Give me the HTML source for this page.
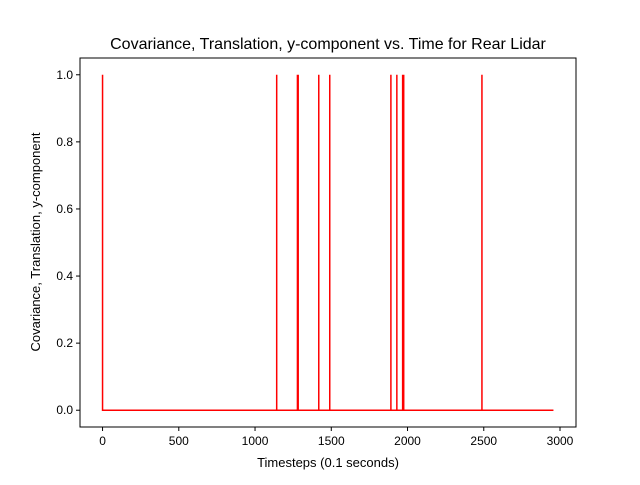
<!DOCTYPE html>
<html><head><meta charset="utf-8"><style>
body{margin:0;background:#fff;}
svg{font-family:"Liberation Sans","DejaVu Sans",sans-serif;}
</style></head><body>
<svg id="chart" width="640" height="480" viewBox="0 0 640 480">
<rect width="640" height="480" fill="#fff"/>
<text x="328" y="49" text-anchor="middle" font-size="16">Covariance, Translation, y-component vs. Time for Rear Lidar</text>
<g id="plot"></g>
<rect x="80" y="58" width="496" height="369" fill="none" stroke="#000" stroke-width="1"/>
<text x="328" y="467" text-anchor="middle" font-size="13">Timesteps (0.1 seconds)</text>
<text transform="translate(40,242) rotate(-90)" text-anchor="middle" font-size="13">Covariance, Translation, y-component</text>
</svg>
<script>
const spikeTimes = [0, 1142, 1278, 1283, 1418, 1490, 1891, 1930, 1968, 1975, 2488];
const spikeValues = [1, 1, 1, 1, 1, 1, 1, 1, 1, 1, 1];
const baseValue = 0;
const endTime = 2957;
const xTicks = [0, 500, 1000, 1500, 2000, 2500, 3000];
const yTicks = [0.0, 0.2, 0.4, 0.6, 0.8, 1.0];
const yTickLabels = ["0.0", "0.2", "0.4", "0.6", "0.8", "1.0"];

const L=80,R=576,T=58,B=427;
const xmin=-0.05*endTime, xmax=endTime*1.05;
const ymin=-0.05, ymax=1.05;
const xs=v=>L+(v-xmin)/(xmax-xmin)*(R-L);
const ys=v=>B-(v-ymin)/(ymax-ymin)*(B-T);
const NS="http://www.w3.org/2000/svg";
const g=document.getElementById('plot');
function mk(tag,attrs){const e=document.createElementNS(NS,tag);for(const k in attrs)e.setAttribute(k,attrs[k]);return e;}

xTicks.forEach(t=>{
  const x=xs(t);
  const ln=mk('line',{x1:x,x2:x,y1:B,y2:B+4,stroke:'#000'});
  
  
  g.appendChild(ln);
  const tx=mk('text',{x:x,y:B+18,'text-anchor':'middle','font-size':'12'});
  tx.textContent=t;
  
  
  g.appendChild(tx);
});
yTicks.forEach((t,i)=>{
  const y=ys(t);
  const ln=mk('line',{x1:L-4,x2:L,y1:y,y2:y,stroke:'#000'});
  
  
  g.appendChild(ln);
  const tx=mk('text',{x:L-7,y:y+4,'text-anchor':'end','font-size':'12'});
  tx.textContent=yTickLabels[i];
  
  
  g.appendChild(tx);
});

let pts=[];
spikeTimes.forEach((t,i)=>{
  pts.push([t,baseValue]);
  pts.push([t,spikeValues[i]]);
  pts.push([t,baseValue]);
});
pts.push([endTime,baseValue]);
const d=pts.map(p=>xs(p[0]).toFixed(2)+','+ys(p[1]).toFixed(2)).join(' ');
const pl=mk('polyline',{points:d,fill:'none',stroke:'#ff0000','stroke-width':'1.5'});


g.appendChild(pl);
</script>
</body></html>
